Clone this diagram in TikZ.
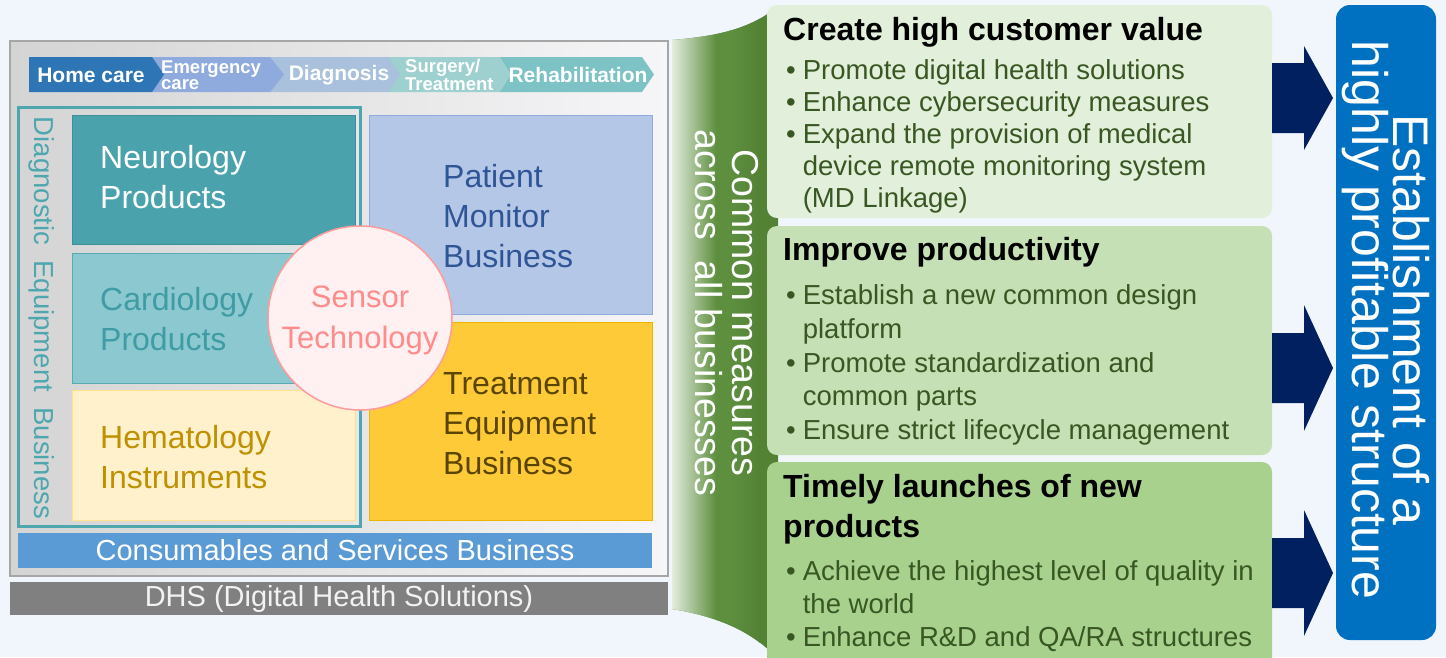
\documentclass[tikz,border=0pt]{standalone}
\usepackage{fontspec}
\setmainfont{Liberation Sans}
\usetikzlibrary{shapes.geometric}

\definecolor{bgc}{HTML}{F1F6FC}
\definecolor{panelL}{HTML}{D4D4D4}
\definecolor{panelR}{HTML}{F6F6F8}
\definecolor{frameGray}{HTML}{A6A6A6}
\definecolor{chA}{HTML}{2E75B6}
\definecolor{chB}{HTML}{8FAADC}
\definecolor{chC}{HTML}{A9C1DC}
\definecolor{chD}{HTML}{9DD0CE}
\definecolor{chE}{HTML}{7DC3C5}
\definecolor{diagTeal}{HTML}{4EA7AF}
\definecolor{neuroFill}{HTML}{4AA3AC}
\definecolor{neuroEdge}{HTML}{3D9099}
\definecolor{cardioFill}{HTML}{8CC8CF}
\definecolor{cardioEdge}{HTML}{5AAAB2}
\definecolor{cardioText}{HTML}{3F9CA5}
\definecolor{hemaFill}{HTML}{FFF1CC}
\definecolor{hemaEdge}{HTML}{FFE28A}
\definecolor{hemaText}{HTML}{BF9000}
\definecolor{pmFill}{HTML}{B4C7E7}
\definecolor{pmEdge}{HTML}{8FAADC}
\definecolor{pmText}{HTML}{2F5597}
\definecolor{trFill}{HTML}{FFCA38}
\definecolor{trEdge}{HTML}{F0B400}
\definecolor{trText}{HTML}{5A4500}
\definecolor{senFill}{HTML}{FFF0F1}
\definecolor{senEdge}{HTML}{FF9B9B}
\definecolor{senText}{HTML}{FF8B8B}
\definecolor{consFill}{HTML}{5B9BD5}
\definecolor{dhsFill}{HTML}{808080}
\definecolor{dhsText}{HTML}{F2F2F2}
\definecolor{bandGreen}{HTML}{548235}
\definecolor{bandMid}{HTML}{5E8F3F}
\definecolor{boxA}{HTML}{E2EFDA}
\definecolor{boxB}{HTML}{C5E0B4}
\definecolor{boxC}{HTML}{A9D18E}
\definecolor{itemText}{HTML}{385723}
\definecolor{navy}{HTML}{002060}
\definecolor{estBlue}{HTML}{0070C0}

\newcommand{\fsz}[2]{\fontsize{#1}{#2}\selectfont}

\tikzset{
  chevlabel/.style={text=white, font=\bfseries\fsz{21}{16}, inner sep=0pt, align=left},
  chevpair/.style={text=white, font=\bfseries\fsz{18.5}{16.5}, inner sep=0pt, align=left},
  unitbox/.style={draw, line width=1pt, inner ysep=0pt, align=left,
    font=\fsz{32}{40}},
  unittext/.style={font=\fsz{32}{40}, align=left, anchor=west, inner sep=0pt},
  goalbox/.style={rounded corners=10pt, inner sep=0pt},
  goaltitle/.style={font=\bfseries\fsz{32}{40}, text=black, inner sep=0pt, align=left},
  goalitems/.style={text=itemText, inner sep=0pt},
  bigarrow/.style={fill=navy},
}

\begin{document}
\begin{tikzpicture}[x=1pt,y=-1pt]
  \clip (0,0) rectangle (1446,657);
  \useasboundingbox (0,0) rectangle (1446,657);
  \fill[bgc] (0,0) rectangle (1446,657);

  % left panel
  \node[draw=frameGray, line width=1.5pt, left color=panelL, right color=panelR,
        minimum width=658pt, minimum height=535pt, inner sep=0pt] (panel) at (339,308.5) {};

  % care-stage chevrons, drawn right to left so each tip lies on top
  \fill[chE] (500,57) -- (642,57) -- (654,74.5) -- (642,92) -- (500,92) -- cycle;
  \fill[chD] (388,57) -- (500,57) -- (511,74.5) -- (500,92) -- (388,92) -- cycle;
  \fill[chC] (270,57) -- (388,57) -- (400,74.5) -- (388,92) -- (270,92) -- cycle;
  \fill[chB] (152,57) -- (270,57) -- (284,74.5) -- (270,92) -- (152,92) -- cycle;
  \fill[chA] (29,57) -- (152,57) -- (164,74.5) -- (152,92) -- (29,92) -- cycle;
  \node[chevlabel] (home) at (91,75) {Home care};
  \node[chevpair, anchor=west] (emerg) at (161,75) {Emergency\\care};
  \node[chevlabel] (diag) at (339,75) {Diagnosis};
  \node[chevpair, anchor=west] (surg) at (405,75) {Surgery/\\Treatment};
  \node[chevlabel] (rehab) at (578,75) {Rehabilitation};

  % diagnostic equipment group
  \node[draw=diagTeal, line width=3pt, minimum width=342pt, minimum height=419pt,
        inner sep=0pt] (diaggrp) at (189,316.5) {};
  \node[rotate=-90, text=diagTeal, font=\fsz{27.5}{30}] (diaglabel) at (42,318)
        {Diagnostic\ \ Equipment\ \ Business};

  \node[unitbox, draw=neuroEdge, fill=neuroFill,
        minimum width=283pt, minimum height=129pt] (neuro) at (213.5,179.5) {};
  \node[unittext, text=white] (neuroText) at (100,177) {Neurology\\Products};
  \node[unitbox, draw=cardioEdge, fill=cardioFill,
        minimum width=283pt, minimum height=130pt] (cardio) at (213.5,318) {};
  \node[unittext, text=cardioText] (cardioText) at (100,319) {Cardiology\\Products};
  \node[unitbox, draw=hemaEdge, fill=hemaFill,
        minimum width=283pt, minimum height=130pt] (hema) at (213.5,455) {};
  \node[unittext, text=hemaText] (hemaText) at (100,457) {Hematology\\Instruments};

  \node[unitbox, draw=pmEdge, fill=pmFill,
        minimum width=283pt, minimum height=199pt] (pm) at (510.5,214.5) {};
  \node[unittext, text=pmText] (pmText) at (443,216) {Patient\\Monitor\\Business};
  \node[unitbox, draw=trEdge, fill=trFill,
        minimum width=283pt, minimum height=198pt] (treat) at (510.5,421) {};
  \node[unittext, text=trText] (treatText) at (443,424) {Treatment\\Equipment\\Business};

  \node[circle, draw=senEdge, line width=1.5pt, fill=senFill,
        minimum size=184pt, inner sep=0pt] (sensor) at (360,318) {};
  \node[text=senText, align=center, font=\fsz{31}{41}, inner sep=0pt]
        (sensorText) at (360,320) {Sensor\\Technology};

  \node[fill=consFill, text=white, minimum width=634pt, minimum height=35pt,
        inner sep=0pt, font=\fsz{29}{30}] (cons) at (335,550.5)
        {Consumables and Services Business};
  \node[fill=dhsFill, text=dhsText, minimum width=658pt, minimum height=33pt,
        inner sep=0pt, font=\fsz{29}{30}] (dhs) at (339,598.5)
        {DHS (Digital Health Solutions)};

  % green band of common measures
  \begin{scope}
    \clip (672,40) .. controls (720,36) and (752,28) .. (778,6)
          -- (778,657) -- (776,657)
          .. controls (752,632) and (720,617) .. (672,609) -- cycle;
    \fill[bandGreen] (660,0) rectangle (790,657);
    \shade[left color=white!85!bandMid, right color=bandMid] (671,0) rectangle (716,657);
    \fill[bandMid] (716,0) rectangle (730,657);
    \shade[left color=bandMid, right color=bandGreen] (729,0) rectangle (760,657);
  \end{scope}
  \node[rotate=-90, text=white, font=\fsz{37.5}{37}, align=center] (common) at (727,313)
        {Common measures\\across\ \ all businesses};

  % goal boxes
  \node[goalbox, fill=boxA, minimum width=505pt, minimum height=213pt] (goalA) at (1019.5,111.5) {};
  \node[goalbox, fill=boxB, minimum width=505pt, minimum height=229pt] (goalB) at (1019.5,340.5) {};
  \node[goalbox, fill=boxC, minimum width=505pt, minimum height=206pt] (goalC) at (1019.5,565) {};

  \node[goaltitle, anchor=west] (titleA) at (783,32) {Create high customer value};
  \node[goalitems, anchor=north west] (itemsA) at (786,57) {\fsz{27.5}{32}%
    \begin{tabular}{@{}l@{\hspace{7pt}}l@{}}
      •& Promote digital health solutions\\
      •& Enhance cybersecurity measures\\
      •& Expand the provision of medical\\
       & device remote monitoring system\\
       & (MD Linkage)
    \end{tabular}};

  \node[goaltitle, anchor=west] (titleB) at (783,252) {Improve productivity};
  \node[goalitems, anchor=north west] (itemsB) at (786,281) {\fsz{27.5}{33.7}%
    \begin{tabular}{@{}l@{\hspace{7pt}}l@{}}
      •& Establish a new common design\\
       & platform\\
      •& Promote standardization and\\
       & common parts\\
      •& Ensure strict lifecycle management
    \end{tabular}};

  \node[goaltitle, anchor=west] (titleC) at (783,509) {Timely launches of new\\products};
  \node[goalitems, anchor=north west] (itemsC) at (786,557) {\fsz{27.5}{33}%
    \begin{tabular}{@{}l@{\hspace{7pt}}l@{}}
      •& Achieve the highest level of quality in\\
       & the world\\
      •& Enhance R\&D and QA/RA structures
    \end{tabular}};

  % arrows toward the outcome
  \fill[bigarrow] (1272,63) -- (1304,63) -- (1304,46) -- (1333,98) -- (1304,150) -- (1304,133) -- (1272,133) -- cycle;
  \fill[bigarrow] (1272,333) -- (1304,333) -- (1304,305) -- (1333,368) -- (1304,431) -- (1304,403) -- (1272,403) -- cycle;
  \fill[bigarrow] (1272,538) -- (1304,538) -- (1304,510) -- (1333,573) -- (1304,636) -- (1304,608) -- (1272,608) -- cycle;

  % outcome
  \node[fill=estBlue, rounded corners=14pt, minimum width=100pt, minimum height=635pt,
        inner sep=0pt] (outcome) at (1386,322.5) {};
  \node[rotate=-90, text=white, font=\fsz{50}{41}, align=center] (outcomeText) at (1386,320)
        {Establishment of a\\highly profitable structure};
\end{tikzpicture}
\end{document}
